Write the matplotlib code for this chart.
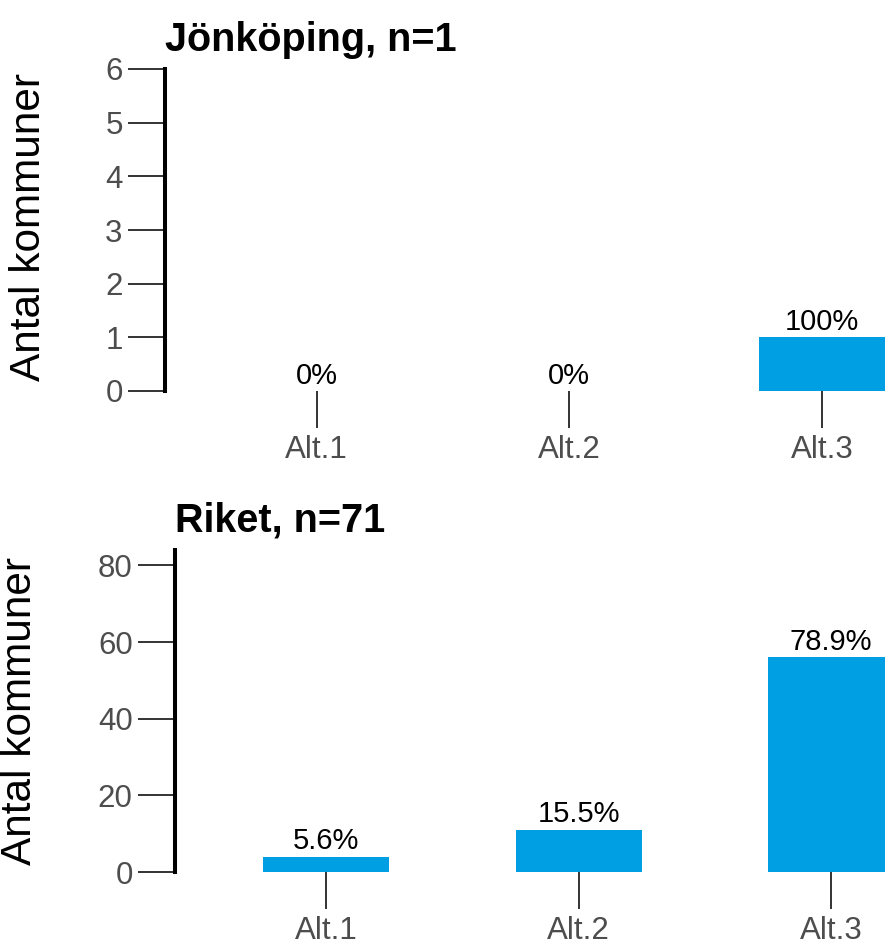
import matplotlib
matplotlib.use("Agg")
import matplotlib.pyplot as plt

plt.rcParams['font.family'] = ['Liberation Sans', 'DejaVu Sans']

categories = ['Alt.1', 'Alt.2', 'Alt.3']
jkpg_counts = [0, 0, 1]
riket_counts = [4, 11, 56]
jkpg_title = 'Jönköping, n=1'
riket_title = 'Riket, n=71'
jkpg_yticks = [0, 1, 2, 3, 4, 5, 6]
riket_yticks = [0, 20, 40, 60, 80]

bar_color = '#009FE3'
W, H = 885, 944


def pct_label(v, n):
    s = '{:.1f}'.format(100.0 * v / n)
    if s.endswith('.0'):
        s = s[:-2]
    return s + '%'


def draw_panel(ax, counts, title, yticks, xright):
    n = sum(counts)
    x = list(range(1, len(categories) + 1))
    ax.bar(x, counts, width=0.5, color=bar_color, zorder=2)
    for xi, v in zip(x, counts):
        ax.annotate(pct_label(v, n), (xi, v), xytext=(0, 1),
                    textcoords='offset points', ha='center', va='bottom',
                    fontsize=21, color='black')
    ax.set_xlim(0.4, xright)
    ax.set_ylim(0, max(counts) * 1.5)
    ax.set_xticks(x)
    ax.set_xticklabels(categories)
    ax.set_yticks(yticks)
    for s in ['top', 'right', 'bottom']:
        ax.spines[s].set_visible(False)
    ax.spines['left'].set_linewidth(2.9)
    ax.spines['left'].set_color('black')
    ax.tick_params(axis='y', length=26.5, width=1.4, color='#333333',
                   labelsize=22.5, labelcolor='#4D4D4D', pad=4)
    ax.tick_params(axis='x', length=26.5, width=1.4, color='#333333',
                   labelsize=22.5, labelcolor='#4D4D4D', pad=5)
    ax.set_title(title, loc='left', fontsize=28.5, fontweight='bold', pad=13)
    for lab in ax.get_xticklabels() + ax.get_yticklabels():
        lab.set_clip_on(False)


fig = plt.figure(figsize=(W / 100, H / 100), dpi=100)

ax1 = fig.add_axes([165 / W, 1 - 391 / H, (W - 165) / W, 322 / H])
draw_panel(ax1, jkpg_counts, jkpg_title, jkpg_yticks, 3.25)

ax2 = fig.add_axes([175 / W, 1 - 872 / H, (W - 175) / W, 322 / H])
draw_panel(ax2, riket_counts, riket_title, riket_yticks, 3.214)

fig.text(29 / W, 1 - 227 / H, 'Antal kommuner', rotation=90, ha='center',
         va='center', fontsize=30.5)
fig.text(20 / W, 1 - 711 / H, 'Antal kommuner', rotation=90, ha='center',
         va='center', fontsize=30.5)

fig.savefig('out.png', dpi=100)
